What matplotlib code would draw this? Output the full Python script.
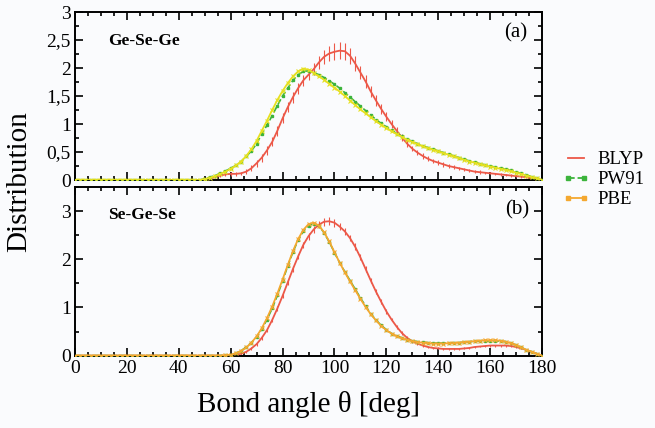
import numpy as np
import matplotlib
matplotlib.use("Agg")
import matplotlib.pyplot as plt
from matplotlib.ticker import MultipleLocator, FixedFormatter, FixedLocator
from matplotlib.lines import Line2D

plt.rcParams['font.family'] = ['Liberation Serif', 'DejaVu Serif']
plt.rcParams['mathtext.fontset'] = 'stix'

# bond angle grid (deg); below 50 deg all distributions are zero
angles = np.arange(0, 181, 2)
zeros_low = [0.0] * 25  # 0..48 deg

# (a) Ge-Se-Ge, values from 50 to 180 deg
gesege_blyp = zeros_low + [
    0.01, 0.03, 0.05, 0.08, 0.10, 0.11, 0.11, 0.12, 0.15, 0.21,
    0.30, 0.40, 0.53, 0.68, 0.88, 1.10, 1.30, 1.48, 1.64, 1.78,
    1.88, 1.98, 2.10, 2.20, 2.26, 2.29, 2.31, 2.30, 2.22, 2.08,
    1.92, 1.76, 1.58, 1.42, 1.27, 1.13, 1.00, 0.88, 0.76, 0.65,
    0.56, 0.49, 0.43, 0.38, 0.34, 0.31, 0.28, 0.25, 0.23, 0.21,
    0.19, 0.17, 0.15, 0.14, 0.13, 0.12, 0.11, 0.10, 0.09, 0.08,
    0.07, 0.06, 0.05, 0.03, 0.02, 0.00]
gesege_blyp_err = zeros_low + [
    0.01, 0.02, 0.02, 0.03, 0.03, 0.03, 0.03, 0.03, 0.04, 0.05,
    0.06, 0.07, 0.08, 0.08, 0.09, 0.09, 0.09, 0.10, 0.10, 0.10,
    0.10, 0.11, 0.12, 0.13, 0.14, 0.15, 0.15, 0.15, 0.14, 0.13,
    0.12, 0.11, 0.10, 0.10, 0.09, 0.08, 0.08, 0.07, 0.06, 0.06,
    0.05, 0.05, 0.05, 0.04, 0.04, 0.04, 0.04, 0.04, 0.03, 0.03,
    0.03, 0.03, 0.03, 0.03, 0.02, 0.02, 0.02, 0.02, 0.02, 0.02,
    0.02, 0.02, 0.01, 0.01, 0.01, 0.00]
gesege_pw91 = zeros_low + [
    0.02, 0.05, 0.08, 0.12, 0.16, 0.21, 0.26, 0.33, 0.42, 0.52,
    0.65, 0.82, 0.98, 1.15, 1.33, 1.50, 1.64, 1.78, 1.88, 1.94,
    1.95, 1.92, 1.88, 1.83, 1.77, 1.71, 1.64, 1.56, 1.48, 1.40,
    1.32, 1.24, 1.16, 1.08, 1.01, 0.95, 0.89, 0.83, 0.78, 0.73,
    0.69, 0.65, 0.61, 0.58, 0.55, 0.52, 0.49, 0.46, 0.43, 0.40,
    0.37, 0.34, 0.32, 0.29, 0.27, 0.25, 0.23, 0.21, 0.19, 0.17,
    0.14, 0.12, 0.09, 0.06, 0.03, 0.00]
gesege_pbe = zeros_low + [
    0.01, 0.04, 0.07, 0.11, 0.15, 0.20, 0.26, 0.33, 0.43, 0.55,
    0.70, 0.88, 1.06, 1.25, 1.43, 1.59, 1.73, 1.85, 1.94, 1.99,
    1.97, 1.91, 1.85, 1.79, 1.72, 1.65, 1.58, 1.50, 1.42, 1.34,
    1.26, 1.19, 1.12, 1.05, 0.99, 0.93, 0.87, 0.82, 0.77, 0.72,
    0.68, 0.64, 0.60, 0.57, 0.54, 0.51, 0.48, 0.45, 0.42, 0.39,
    0.36, 0.33, 0.31, 0.28, 0.26, 0.24, 0.22, 0.20, 0.18, 0.16,
    0.13, 0.11, 0.08, 0.05, 0.03, 0.00]

# (b) Se-Ge-Se, values from 50 to 180 deg
segese_blyp = zeros_low + [
    0.00, 0.00, 0.00, 0.00, 0.00, 0.01, 0.02, 0.04, 0.08, 0.15,
    0.24, 0.37, 0.53, 0.74, 0.98, 1.24, 1.52, 1.80, 2.06, 2.30,
    2.48, 2.62, 2.72, 2.78, 2.79, 2.76, 2.68, 2.58, 2.44, 2.26,
    2.04, 1.80, 1.56, 1.33, 1.12, 0.92, 0.75, 0.60, 0.47, 0.37,
    0.30, 0.25, 0.21, 0.18, 0.16, 0.15, 0.14, 0.14, 0.14, 0.14,
    0.15, 0.16, 0.18, 0.19, 0.20, 0.21, 0.21, 0.21, 0.21, 0.20,
    0.18, 0.15, 0.12, 0.08, 0.04, 0.00]
segese_blyp_err = zeros_low + [
    0.00, 0.00, 0.00, 0.00, 0.00, 0.01, 0.01, 0.02, 0.02, 0.03,
    0.03, 0.04, 0.04, 0.05, 0.05, 0.05, 0.05, 0.06, 0.06, 0.06,
    0.07, 0.07, 0.08, 0.08, 0.08, 0.08, 0.08, 0.07, 0.07, 0.07,
    0.06, 0.06, 0.06, 0.05, 0.05, 0.05, 0.04, 0.04, 0.04, 0.03,
    0.03, 0.03, 0.03, 0.02, 0.02, 0.02, 0.02, 0.02, 0.02, 0.02,
    0.02, 0.02, 0.02, 0.02, 0.02, 0.02, 0.02, 0.02, 0.02, 0.02,
    0.02, 0.02, 0.01, 0.01, 0.01, 0.00]
segese_pw91 = zeros_low + [
    0.00, 0.00, 0.00, 0.00, 0.01, 0.02, 0.05, 0.10, 0.18, 0.27,
    0.39, 0.55, 0.75, 0.98, 1.25, 1.55, 1.86, 2.15, 2.40, 2.58,
    2.70, 2.74, 2.70, 2.55, 2.36, 2.14, 1.93, 1.74, 1.56, 1.38,
    1.20, 1.03, 0.87, 0.74, 0.63, 0.54, 0.46, 0.41, 0.37, 0.33,
    0.31, 0.29, 0.28, 0.27, 0.26, 0.26, 0.26, 0.26, 0.27, 0.27,
    0.28, 0.29, 0.30, 0.30, 0.30, 0.31, 0.31, 0.30, 0.29, 0.26,
    0.22, 0.17, 0.12, 0.08, 0.04, 0.00]
segese_pbe = zeros_low + [
    0.00, 0.00, 0.00, 0.00, 0.01, 0.02, 0.05, 0.10, 0.17, 0.27,
    0.40, 0.57, 0.78, 1.02, 1.29, 1.58, 1.88, 2.17, 2.42, 2.61,
    2.73, 2.76, 2.70, 2.56, 2.37, 2.15, 1.93, 1.73, 1.54, 1.36,
    1.18, 1.01, 0.86, 0.73, 0.62, 0.53, 0.46, 0.40, 0.36, 0.33,
    0.30, 0.28, 0.27, 0.26, 0.25, 0.25, 0.25, 0.26, 0.26, 0.27,
    0.28, 0.29, 0.30, 0.31, 0.32, 0.32, 0.32, 0.31, 0.29, 0.26,
    0.22, 0.17, 0.12, 0.08, 0.04, 0.00]

red = '#ec5848'
green = '#3cb43c'
yellow = '#e6e020'
orange = '#f4a830'
bg = '#fafbfd'

fig = plt.figure(figsize=(6.55, 4.28), dpi=100, facecolor=bg)
ax1 = fig.add_axes([0.1145, 0.5794, 0.713, 0.3925])
ax2 = fig.add_axes([0.1145, 0.169, 0.713, 0.394])


def draw(ax, blyp, blyp_err, pw91, pbe, pbe_color):
    ax.set_facecolor(bg)
    ax.errorbar(angles, blyp, yerr=blyp_err, color=red, lw=1.3,
                elinewidth=0.8, capsize=0, zorder=2)
    ax.plot(angles, pw91, color=green, ls='--', lw=1.2, marker='s',
            ms=2.0, zorder=3)
    ax.plot(angles, pbe, color=pbe_color, ls='-', lw=1.3, marker='x',
            ms=2.5, mew=0.8, zorder=4)
    ax.set_xlim(0, 180)
    ax.xaxis.set_major_locator(MultipleLocator(20))
    ax.xaxis.set_minor_locator(MultipleLocator(5))
    ax.tick_params(which='both', direction='in', top=True, right=True,
                   width=1.2, labelsize=14, pad=3)
    ax.tick_params(which='major', length=6)
    ax.tick_params(which='minor', length=3)
    for s in ax.spines.values():
        s.set_linewidth(1.4)


draw(ax1, gesege_blyp, gesege_blyp_err, gesege_pw91, gesege_pbe, yellow)
ax1.set_ylim(0, 3)
ax1.yaxis.set_major_locator(FixedLocator([0, 0.5, 1, 1.5, 2, 2.5, 3]))
ax1.yaxis.set_major_formatter(FixedFormatter(['0', '0,5', '1', '1,5', '2', '2,5', '3']))
ax1.yaxis.set_minor_locator(MultipleLocator(0.25))
ax1.tick_params(labelbottom=False)
ax1.text(0.071, 0.83, 'Ge-Se-Ge', transform=ax1.transAxes, fontsize=12.5,
         fontweight='bold', va='center', ha='left')
ax1.text(0.968, 0.875, '(a)', transform=ax1.transAxes, fontsize=15,
         va='center', ha='right')

draw(ax2, segese_blyp, segese_blyp_err, segese_pw91, segese_pbe, orange)
ax2.set_ylim(0, 3.5)
ax2.yaxis.set_major_locator(FixedLocator([0, 1, 2, 3]))
ax2.yaxis.set_minor_locator(MultipleLocator(0.5))
ax2.text(0.071, 0.834, 'Se-Ge-Se', transform=ax2.transAxes, fontsize=12.5,
         fontweight='bold', va='center', ha='left')
ax2.text(0.973, 0.864, '(b)', transform=ax2.transAxes, fontsize=15,
         va='center', ha='right')
ax2.set_xlabel('Bond angle θ [deg]', fontsize=21, labelpad=10)

fig.text(0.03, 0.575, 'Distribution', rotation=90, fontsize=21,
         va='center', ha='center')

handles = [
    Line2D([], [], color=red, lw=1.3),
    Line2D([], [], color=green, ls='--', lw=1.3, marker='s', ms=2.5),
    Line2D([], [], color=orange, lw=1.3, marker='s', ms=2.5),
]
fig.legend(handles, ['BLYP', 'PW91', 'PBE'], loc='upper left',
           bbox_to_anchor=(0.858, 0.647), frameon=False, fontsize=13.5,
           handlelength=1.5, handletextpad=0.4, labelspacing=0.15,
           borderaxespad=0, borderpad=0, numpoints=2)

fig.savefig('out.png', dpi=100, facecolor=bg)
